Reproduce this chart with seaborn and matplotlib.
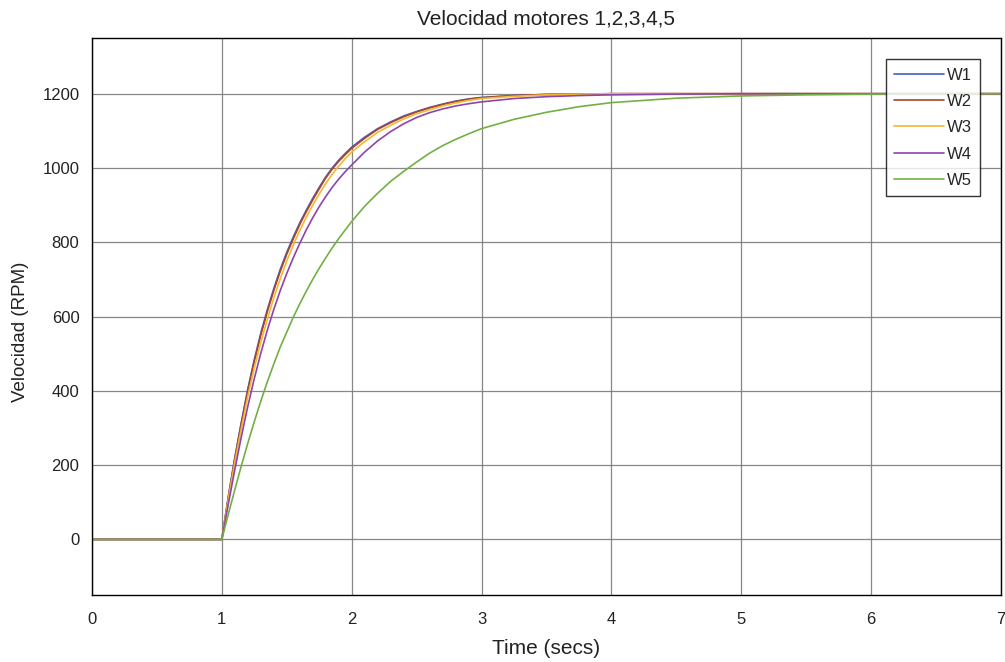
import matplotlib
matplotlib.use("Agg")
import matplotlib.pyplot as plt
import seaborn as sns
import pandas as pd

# Sample times (s) and motor speeds (RPM) for the five motors
t = [0.0, 1.0, 1.05, 1.1, 1.15, 1.2, 1.25, 1.3, 1.35, 1.4, 1.45, 1.5, 1.55, 1.6,
     1.65, 1.7, 1.75, 1.8, 1.85, 1.9, 1.95, 2.0, 2.1, 2.2, 2.3, 2.4, 2.5, 2.6,
     2.7, 2.8, 2.9, 3.0, 3.25, 3.5, 3.75, 4.0, 4.5, 5.0, 5.5, 6.0, 7.0]

w1 = [0, 0, 115, 220, 315, 405, 484, 555, 618, 675, 727, 773, 814, 852,
      886, 918, 948, 976, 1000, 1021, 1039, 1056, 1083, 1106, 1124, 1140, 1152, 1163,
      1172, 1180, 1186, 1190, 1195, 1198, 1199, 1200, 1200, 1200, 1200, 1200, 1200]
w2 = [0, 0, 113, 217, 311, 400, 479, 550, 613, 670, 722, 768, 809, 848,
      882, 914, 944, 973, 997, 1018, 1036, 1053, 1080, 1104, 1122, 1138, 1151, 1162,
      1171, 1179, 1185, 1189, 1195, 1198, 1199, 1200, 1200, 1200, 1200, 1200, 1200]
w3 = [0, 0, 108, 208, 298, 385, 462, 530, 593, 650, 702, 750, 792, 832,
      867, 900, 930, 958, 983, 1005, 1025, 1043, 1071, 1096, 1115, 1132, 1146, 1157,
      1167, 1175, 1182, 1187, 1193, 1197, 1199, 1200, 1200, 1200, 1200, 1200, 1200]
w4 = [0, 0, 95, 188, 276, 358, 433, 501, 563, 619, 670, 716, 758, 797,
      833, 866, 896, 923, 948, 970, 990, 1008, 1043, 1073, 1098, 1119, 1136, 1149,
      1159, 1167, 1173, 1178, 1187, 1192, 1195, 1197, 1199, 1200, 1200, 1200, 1200]
w5 = [0, 0, 68, 134, 198, 259, 317, 372, 424, 472, 518, 558, 598, 634,
      668, 700, 730, 758, 785, 810, 833, 856, 897, 932, 964, 991, 1016, 1040,
      1060, 1077, 1092, 1106, 1131, 1150, 1165, 1176, 1188, 1194, 1197, 1199, 1200]

names = ["W1", "W2", "W3", "W4", "W5"]
series = [w1, w2, w3, w4, w5]
colors = ["#3f5fc4", "#a8452c", "#f2b830", "#8e44ad", "#72b043"]

xticks = [0, 1, 2, 3, 4, 5, 6, 7]
yticks = [0, 200, 400, 600, 800, 1000, 1200]

df = pd.concat(
    [pd.DataFrame({"t": t, "speed": s, "motor": n}) for n, s in zip(names, series)],
    ignore_index=True,
)

sns.set_theme(style="white")
plt.rcParams["font.family"] = ["Liberation Sans", "DejaVu Sans"]

fig = plt.figure(figsize=(10.05, 6.62), dpi=100)
ax = fig.add_axes([0.0915, 0.101, 0.9045, 0.8416])

sns.lineplot(data=df, x="t", y="speed", hue="motor", hue_order=names,
             palette=colors, linewidth=1.2, ax=ax, estimator=None, sort=False)

ax.set_xlim(0, 7)
ax.set_ylim(-150, 1350)
ax.set_xticks(xticks)
ax.set_yticks(yticks)
ax.tick_params(axis="both", direction="in", length=4, width=0.8, color="black",
               labelsize=12, labelcolor="#222222")
ax.tick_params(axis="x", pad=12)
ax.tick_params(axis="y", pad=9)
ax.grid(True, color="#7a7a7a", linewidth=0.9, alpha=0.9)
for sp in ax.spines.values():
    sp.set_color("black")
    sp.set_linewidth(1.0)

ax.set_title("Velocidad motores 1,2,3,4,5", fontsize=15, color="#222222", pad=10)
ax.set_xlabel("Time (secs)", fontsize=15, color="#222222", labelpad=9)
ax.set_ylabel("Velocidad (RPM)", fontsize=13.5, color="#222222")
ax.yaxis.set_label_coords(-0.069, 0.472)

leg = ax.legend(loc="upper right", bbox_to_anchor=(0.977, 0.962), fontsize=12,
                frameon=True, fancybox=False, handlelength=3.0, labelspacing=0.68,
                borderpad=0.5, handletextpad=0.15, borderaxespad=0.0)
leg.get_frame().set_edgecolor("black")
leg.get_frame().set_linewidth(1.0)
leg.set_title(None)

fig.savefig("out.png", dpi=100)
